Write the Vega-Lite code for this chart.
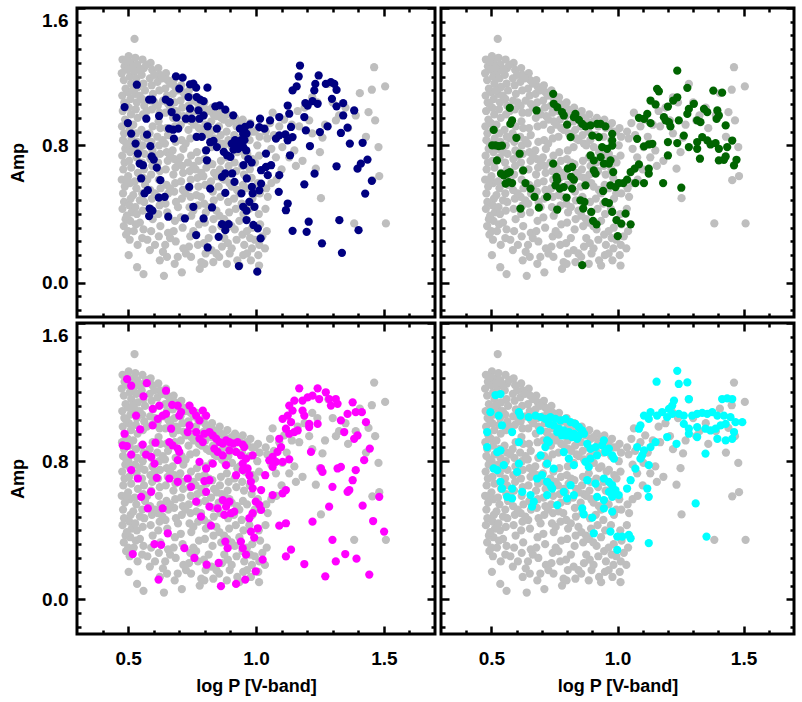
{
"$schema": "https://vega.github.io/schema/vega-lite/v6.json",
"background": "white",
"padding": {"top": 5, "left": 8, "right": 5, "bottom": 0},
"spacing": 0,
"columns": 2,
"config": {
  "view": {"stroke": "black", "strokeWidth": 3},
  "axis": {"grid": false, "domain": false, "tickColor": "black", "labelColor": "black", "titleColor": "black",
    "labelFont": "Liberation Sans", "labelFontWeight": "bold", "labelFontSize": 19,
    "titleFont": "Liberation Sans", "titleFontWeight": "bold", "titleFontSize": 18, "zindex": 1}
},
"datasets": {
"gray": [
{"p":0.478,"a":1.30},{"p":0.486,"a":1.26},{"p":0.475,"a":1.22},{"p":0.483,"a":1.18},{"p":0.49,"a":1.13},{"p":0.477,"a":1.09},{"p":0.485,"a":1.05},{"p":0.479,"a":1.0},{"p":0.488,"a":0.95},{"p":0.476,"a":0.91},{"p":0.484,"a":0.87},{"p":0.48,"a":0.83},{"p":0.489,"a":0.78},{"p":0.477,"a":0.74},{"p":0.486,"a":0.70},{"p":0.481,"a":0.66},{"p":0.475,"a":0.60},{"p":0.487,"a":0.56},{"p":0.48,"a":0.52},{"p":0.484,"a":0.47},{"p":0.478,"a":0.43},{"p":0.49,"a":0.37},{"p":0.483,"a":0.33},{"p":0.492,"a":0.28},
{"p":0.502,"a":1.32},{"p":0.51,"a":1.28},{"p":0.499,"a":1.24},{"p":0.507,"a":1.20},{"p":0.512,"a":1.16},{"p":0.5,"a":1.11},{"p":0.509,"a":1.07},{"p":0.503,"a":1.02},{"p":0.511,"a":0.98},{"p":0.498,"a":0.93},{"p":0.506,"a":0.89},{"p":0.513,"a":0.84},{"p":0.501,"a":0.80},{"p":0.508,"a":0.76},{"p":0.504,"a":0.71},{"p":0.512,"a":0.67},{"p":0.5,"a":0.62},{"p":0.507,"a":0.58},{"p":0.51,"a":0.49},{"p":0.505,"a":0.45},{"p":0.514,"a":0.41},{"p":0.508,"a":0.36},{"p":0.5,"a":0.30},{"p":0.506,"a":0.25},{"p":0.502,"a":0.16},{"p":0.525,"a":1.42},
{"p":0.528,"a":1.31},{"p":0.535,"a":1.27},{"p":0.525,"a":1.23},{"p":0.532,"a":1.19},{"p":0.538,"a":1.14},{"p":0.527,"a":1.10},{"p":0.534,"a":1.05},{"p":0.53,"a":1.01},{"p":0.537,"a":0.96},{"p":0.531,"a":0.87},{"p":0.536,"a":0.82},{"p":0.527,"a":0.78},{"p":0.533,"a":0.73},{"p":0.538,"a":0.64},{"p":0.526,"a":0.59},{"p":0.532,"a":0.55},{"p":0.528,"a":0.44},{"p":0.534,"a":0.40},{"p":0.53,"a":0.34},{"p":0.537,"a":0.22},{"p":0.535,"a":0.09},
{"p":0.556,"a":1.30},{"p":0.562,"a":1.25},{"p":0.553,"a":1.21},{"p":0.56,"a":1.16},{"p":0.566,"a":1.12},{"p":0.555,"a":1.07},{"p":0.563,"a":1.03},{"p":0.558,"a":0.98},{"p":0.552,"a":0.89},{"p":0.561,"a":0.85},{"p":0.557,"a":0.80},{"p":0.564,"a":0.75},{"p":0.554,"a":0.70},{"p":0.562,"a":0.66},{"p":0.559,"a":0.61},{"p":0.566,"a":0.57},{"p":0.555,"a":0.52},{"p":0.563,"a":0.47},{"p":0.557,"a":0.42},{"p":0.56,"a":0.31},{"p":0.555,"a":0.26},{"p":0.56,"a":0.05},
{"p":0.588,"a":1.28},{"p":0.594,"a":1.24},{"p":0.585,"a":1.19},{"p":0.592,"a":1.15},{"p":0.597,"a":1.10},{"p":0.586,"a":1.06},{"p":0.593,"a":1.01},{"p":0.596,"a":0.91},{"p":0.584,"a":0.87},{"p":0.591,"a":0.82},{"p":0.595,"a":0.77},{"p":0.587,"a":0.72},{"p":0.594,"a":0.68},{"p":0.59,"a":0.63},{"p":0.586,"a":0.54},{"p":0.593,"a":0.49},{"p":0.588,"a":0.43},{"p":0.596,"a":0.37},{"p":0.59,"a":0.30},{"p":0.585,"a":0.19},
{"p":0.618,"a":1.25},{"p":0.624,"a":1.21},{"p":0.615,"a":1.17},{"p":0.622,"a":1.12},{"p":0.616,"a":1.03},{"p":0.623,"a":0.99},{"p":0.619,"a":0.94},{"p":0.626,"a":0.90},{"p":0.614,"a":0.85},{"p":0.621,"a":0.80},{"p":0.625,"a":0.75},{"p":0.617,"a":0.70},{"p":0.624,"a":0.65},{"p":0.62,"a":0.60},{"p":0.627,"a":0.55},{"p":0.616,"a":0.50},{"p":0.623,"a":0.45},{"p":0.618,"a":0.40},{"p":0.626,"a":0.33},{"p":0.62,"a":0.27},{"p":0.624,"a":0.13},
{"p":0.648,"a":1.22},{"p":0.654,"a":1.18},{"p":0.645,"a":1.13},{"p":0.652,"a":1.09},{"p":0.657,"a":1.04},{"p":0.646,"a":0.99},{"p":0.649,"a":0.90},{"p":0.656,"a":0.86},{"p":0.644,"a":0.81},{"p":0.651,"a":0.76},{"p":0.655,"a":0.71},{"p":0.647,"a":0.66},{"p":0.65,"a":0.57},{"p":0.657,"a":0.52},{"p":0.646,"a":0.46},{"p":0.653,"a":0.41},{"p":0.656,"a":0.29},{"p":0.645,"a":0.22},{"p":0.652,"a":0.15},{"p":0.64,"a":0.04},
{"p":0.678,"a":1.18},{"p":0.684,"a":1.14},{"p":0.675,"a":1.10},{"p":0.682,"a":1.05},{"p":0.687,"a":1.00},{"p":0.676,"a":0.96},{"p":0.683,"a":0.91},{"p":0.686,"a":0.82},{"p":0.674,"a":0.77},{"p":0.681,"a":0.72},{"p":0.685,"a":0.67},{"p":0.677,"a":0.63},{"p":0.684,"a":0.58},{"p":0.68,"a":0.53},{"p":0.687,"a":0.47},{"p":0.683,"a":0.36},{"p":0.678,"a":0.30},{"p":0.686,"a":0.24},{"p":0.682,"a":0.11},
{"p":0.708,"a":1.15},{"p":0.714,"a":1.11},{"p":0.705,"a":1.06},{"p":0.712,"a":1.02},{"p":0.717,"a":0.97},{"p":0.706,"a":0.92},{"p":0.709,"a":0.83},{"p":0.716,"a":0.78},{"p":0.704,"a":0.73},{"p":0.711,"a":0.68},{"p":0.715,"a":0.64},{"p":0.707,"a":0.59},{"p":0.714,"a":0.54},{"p":0.71,"a":0.49},{"p":0.706,"a":0.38},{"p":0.713,"a":0.32},{"p":0.716,"a":0.20},{"p":0.71,"a":0.06},
{"p":0.738,"a":1.12},{"p":0.744,"a":1.08},{"p":0.735,"a":1.03},{"p":0.742,"a":0.99},{"p":0.747,"a":0.94},{"p":0.736,"a":0.89},{"p":0.743,"a":0.84},{"p":0.746,"a":0.74},{"p":0.734,"a":0.70},{"p":0.741,"a":0.65},{"p":0.745,"a":0.60},{"p":0.737,"a":0.55},{"p":0.744,"a":0.50},{"p":0.74,"a":0.44},{"p":0.747,"a":0.39},{"p":0.743,"a":0.27},{"p":0.738,"a":0.21},{"p":0.746,"a":0.15},
{"p":0.768,"a":1.08},{"p":0.774,"a":1.04},{"p":0.765,"a":1.00},{"p":0.772,"a":0.95},{"p":0.777,"a":0.90},{"p":0.766,"a":0.85},{"p":0.769,"a":0.76},{"p":0.776,"a":0.71},{"p":0.764,"a":0.66},{"p":0.771,"a":0.61},{"p":0.775,"a":0.56},{"p":0.767,"a":0.51},{"p":0.774,"a":0.45},{"p":0.777,"a":0.34},{"p":0.766,"a":0.28},{"p":0.773,"a":0.22},{"p":0.78,"a":0.08},
{"p":0.798,"a":1.05},{"p":0.804,"a":1.01},{"p":0.795,"a":0.97},{"p":0.802,"a":0.92},{"p":0.807,"a":0.87},{"p":0.803,"a":0.77},{"p":0.799,"a":0.72},{"p":0.806,"a":0.67},{"p":0.794,"a":0.62},{"p":0.801,"a":0.57},{"p":0.797,"a":0.46},{"p":0.804,"a":0.41},{"p":0.8,"a":0.35},{"p":0.796,"a":0.23},{"p":0.803,"a":0.17},{"p":0.798,"a":0.11},
{"p":0.828,"a":1.02},{"p":0.834,"a":0.98},{"p":0.825,"a":0.94},{"p":0.832,"a":0.89},{"p":0.837,"a":0.84},{"p":0.826,"a":0.79},{"p":0.829,"a":0.69},{"p":0.836,"a":0.64},{"p":0.824,"a":0.59},{"p":0.831,"a":0.53},{"p":0.835,"a":0.48},{"p":0.834,"a":0.37},{"p":0.83,"a":0.31},{"p":0.826,"a":0.19},{"p":0.833,"a":0.12},
{"p":0.858,"a":1.00},{"p":0.864,"a":0.96},{"p":0.855,"a":0.91},{"p":0.862,"a":0.86},{"p":0.867,"a":0.81},{"p":0.863,"a":0.71},{"p":0.859,"a":0.66},{"p":0.866,"a":0.61},{"p":0.854,"a":0.56},{"p":0.861,"a":0.50},{"p":0.857,"a":0.39},{"p":0.864,"a":0.33},{"p":0.867,"a":0.21},{"p":0.856,"a":0.15},
{"p":0.888,"a":0.98},{"p":0.894,"a":0.93},{"p":0.885,"a":0.88},{"p":0.892,"a":0.83},{"p":0.886,"a":0.73},{"p":0.893,"a":0.68},{"p":0.889,"a":0.63},{"p":0.896,"a":0.58},{"p":0.891,"a":0.47},{"p":0.895,"a":0.41},{"p":0.887,"a":0.35},{"p":0.89,"a":0.23},{"p":0.897,"a":0.17},{"p":0.886,"a":0.11},
{"p":0.918,"a":0.96},{"p":0.924,"a":0.91},{"p":0.915,"a":0.86},{"p":0.927,"a":0.76},{"p":0.916,"a":0.70},{"p":0.923,"a":0.65},{"p":0.926,"a":0.54},{"p":0.914,"a":0.49},{"p":0.921,"a":0.43},{"p":0.917,"a":0.31},{"p":0.924,"a":0.25},{"p":0.927,"a":0.13},
{"p":0.948,"a":0.95},{"p":0.954,"a":0.90},{"p":0.945,"a":0.85},{"p":0.957,"a":0.74},{"p":0.946,"a":0.68},{"p":0.953,"a":0.63},{"p":0.949,"a":0.57},{"p":0.944,"a":0.46},{"p":0.951,"a":0.40},{"p":0.947,"a":0.28},{"p":0.954,"a":0.22},{"p":0.95,"a":0.16},
{"p":0.978,"a":0.93},{"p":0.984,"a":0.88},{"p":0.975,"a":0.83},{"p":0.987,"a":0.72},{"p":0.976,"a":0.66},{"p":0.983,"a":0.61},{"p":0.986,"a":0.49},{"p":0.974,"a":0.43},{"p":0.985,"a":0.32},{"p":0.977,"a":0.26},{"p":0.984,"a":0.20},{"p":0.98,"a":0.13},
{"p":1.008,"a":0.90},{"p":1.014,"a":0.85},{"p":1.005,"a":0.80},{"p":1.012,"a":0.74},{"p":1.007,"a":0.58},{"p":1.015,"a":0.52},{"p":1.011,"a":0.40},{"p":1.016,"a":0.34},{"p":1.013,"a":0.22},{"p":1.009,"a":0.16},{"p":1.012,"a":0.10},
{"p":1.038,"a":0.88},{"p":1.044,"a":0.84},{"p":1.04,"a":0.55},{"p":1.046,"a":0.50},{"p":1.037,"a":0.43},{"p":1.042,"a":0.30},{"p":1.035,"a":0.20},
{"p":1.065,"a":0.99},{"p":1.091,"a":0.91},{"p":1.103,"a":0.79},{"p":1.13,"a":0.73},{"p":1.156,"a":0.68},{"p":1.182,"a":0.71},{"p":1.208,"a":0.945},{"p":1.22,"a":0.87},{"p":1.169,"a":0.91},{"p":1.163,"a":1.0},{"p":1.15,"a":0.77},{"p":1.078,"a":0.73},{"p":1.12,"a":0.85},{"p":1.07,"a":0.86},{"p":1.055,"a":0.93},{"p":1.11,"a":0.95},{"p":1.14,"a":0.92},{"p":1.19,"a":1.02},{"p":1.24,"a":1.05},{"p":1.27,"a":0.92},{"p":1.283,"a":1.158},{"p":1.3125,"a":0.945},{"p":1.325,"a":0.974},{"p":1.39,"a":0.974},{"p":1.406,"a":1.104},{"p":1.453,"a":1.124},{"p":1.462,"a":1.255},{"p":1.505,"a":1.143},{"p":1.44,"a":0.993},{"p":1.466,"a":0.945},{"p":1.479,"a":0.79},{"p":1.482,"a":0.621},{"p":1.455,"a":0.597},{"p":1.254,"a":0.492},{"p":1.508,"a":0.345},{"p":1.384,"a":0.345},{"p":1.234,"a":0.664},{"p":1.26,"a":0.845},{"p":1.35,"a":1.02},{"p":1.3,"a":1.05},{"p":1.22,"a":1.08},{"p":1.36,"a":0.9},{"p":1.43,"a":0.85},{"p":1.25,"a":0.76},{"p":1.06,"a":0.58},{"p":1.08,"a":0.6},{"p":1.06,"a":0.78},{"p":1.1,"a":0.66},
{"p":0.494,"a":1.29},{"p":0.519,"a":1.25},{"p":0.546,"a":1.24},{"p":0.571,"a":1.27},{"p":0.602,"a":1.21},{"p":0.633,"a":1.19},{"p":0.664,"a":1.16},{"p":0.693,"a":1.12},{"p":0.723,"a":1.09},{"p":0.756,"a":1.06},{"p":0.786,"a":1.03},{"p":0.815,"a":1.0},{"p":0.845,"a":0.97},{"p":0.874,"a":0.95},{"p":0.905,"a":0.94},{"p":0.935,"a":0.93},{"p":0.965,"a":0.91},{"p":0.995,"a":0.88},
{"p":0.492,"a":1.04},{"p":0.517,"a":1.12},{"p":0.545,"a":1.09},{"p":0.573,"a":1.0},{"p":0.604,"a":1.05},{"p":0.636,"a":1.06},{"p":0.665,"a":1.02},{"p":0.695,"a":0.98},{"p":0.726,"a":0.95},{"p":0.757,"a":0.92},{"p":0.787,"a":0.89},{"p":0.817,"a":0.86},{"p":0.846,"a":0.83},{"p":0.876,"a":0.8},{"p":0.906,"a":0.79},{"p":0.936,"a":0.77},{"p":0.966,"a":0.75},{"p":0.996,"a":0.7},
{"p":0.493,"a":0.81},{"p":0.52,"a":0.92},{"p":0.547,"a":0.76},{"p":0.574,"a":0.84},{"p":0.604,"a":0.74},{"p":0.635,"a":0.83},{"p":0.664,"a":0.74},{"p":0.696,"a":0.7},{"p":0.725,"a":0.81},{"p":0.755,"a":0.68},{"p":0.786,"a":0.64},{"p":0.816,"a":0.7},{"p":0.846,"a":0.62},{"p":0.876,"a":0.6},{"p":0.905,"a":0.56},{"p":0.935,"a":0.52},{"p":0.965,"a":0.55},{"p":0.995,"a":0.52},
{"p":0.494,"a":0.6},{"p":0.52,"a":0.51},{"p":0.546,"a":0.48},{"p":0.575,"a":0.6},{"p":0.604,"a":0.52},{"p":0.634,"a":0.48},{"p":0.664,"a":0.55},{"p":0.695,"a":0.44},{"p":0.724,"a":0.52},{"p":0.755,"a":0.42},{"p":0.785,"a":0.5},{"p":0.815,"a":0.44},{"p":0.845,"a":0.42},{"p":0.875,"a":0.37},{"p":0.904,"a":0.33},{"p":0.935,"a":0.36},{"p":0.965,"a":0.3},{"p":0.995,"a":0.25},
{"p":0.495,"a":0.39},{"p":0.522,"a":0.3},{"p":0.546,"a":0.35},{"p":0.575,"a":0.25},{"p":0.605,"a":0.22},{"p":0.636,"a":0.18},{"p":0.664,"a":0.26},{"p":0.694,"a":0.15},{"p":0.726,"a":0.17},{"p":0.755,"a":0.3},{"p":0.786,"a":0.12},{"p":0.815,"a":0.26},{"p":0.845,"a":0.17},{"p":0.876,"a":0.26},{"p":0.905,"a":0.2},{"p":0.935,"a":0.1},{"p":0.965,"a":0.17},{"p":1.025,"a":0.27}
],
"blue": [
{"p":0.534,"a":1.153},{"p":0.486,"a":1.023},{"p":0.499,"a":0.93},{"p":0.512,"a":0.868},{"p":0.529,"a":0.81},{"p":0.538,"a":0.752},{"p":0.545,"a":0.694},{"p":0.558,"a":0.684},{"p":0.551,"a":0.607},{"p":0.564,"a":0.52},{"p":0.577,"a":0.539},{"p":0.584,"a":0.432},{"p":0.595,"a":0.419},{"p":0.582,"a":0.388},{"p":0.571,"a":0.955},{"p":0.574,"a":0.862},{"p":0.587,"a":0.795},{"p":0.592,"a":0.736},{"p":0.6,"a":0.717},{"p":0.612,"a":0.67},{"p":0.626,"a":0.597},{"p":0.62,"a":0.496},{"p":0.643,"a":0.5},{"p":0.657,"a":0.384},{"p":0.582,"a":1.066},{"p":0.595,"a":1.066},{"p":0.621,"a":0.971},{"p":0.647,"a":1.066},{"p":0.663,"a":1.052},{"p":0.67,"a":0.994},{"p":0.689,"a":0.961},{"p":0.66,"a":0.897},{"p":0.676,"a":0.891},{"p":0.696,"a":0.897},{"p":0.679,"a":0.839},{"p":0.687,"a":1.202},{"p":0.713,"a":1.194},{"p":0.7,"a":1.13},{"p":0.742,"a":1.155},{"p":0.755,"a":1.159},{"p":0.766,"a":1.136},{"p":0.736,"a":1.081},{"p":0.768,"a":1.081},{"p":0.782,"a":1.066},{"p":0.795,"a":1.058},{"p":0.81,"a":1.136},{"p":0.742,"a":1.014},{"p":0.775,"a":1.004},{"p":0.726,"a":0.955},{"p":0.749,"a":0.955},{"p":0.779,"a":0.955},{"p":0.795,"a":0.975},{"p":0.768,"a":0.849},{"p":0.788,"a":0.849},{"p":0.811,"a":0.911},{"p":0.847,"a":0.897},{"p":0.841,"a":1.027},{"p":0.858,"a":1.033},{"p":0.88,"a":1.008},{"p":0.911,"a":0.975},{"p":0.821,"a":0.818},{"p":0.834,"a":0.826},{"p":0.847,"a":0.79},{"p":0.805,"a":0.771},{"p":0.808,"a":0.713},{"p":0.739,"a":0.558},{"p":0.755,"a":0.442},{"p":0.722,"a":0.374},{"p":0.766,"a":0.277},{"p":0.795,"a":0.374},{"p":0.811,"a":0.205},{"p":0.821,"a":0.548},{"p":0.828,"a":0.438},{"p":0.88,"a":0.523},{"p":0.867,"a":0.341},{"p":0.893,"a":0.341},{"p":0.88,"a":0.306},{"p":0.854,"a":0.267},{"p":0.874,"a":0.762},{"p":0.887,"a":0.742},{"p":0.9,"a":0.733},{"p":0.867,"a":0.616},{"p":0.88,"a":0.636},{"p":0.907,"a":0.636},{"p":0.916,"a":0.587},{"p":0.905,"a":0.81},{"p":0.918,"a":0.83},{"p":0.93,"a":0.81},{"p":0.942,"a":0.83},{"p":0.955,"a":0.83},{"p":0.93,"a":0.78},{"p":0.95,"a":0.79},{"p":0.962,"a":0.77},{"p":0.912,"a":0.775},{"p":0.937,"a":0.897},{"p":0.957,"a":0.907},{"p":0.963,"a":0.868},{"p":0.95,"a":0.868},{"p":0.951,"a":0.685},{"p":0.964,"a":0.607},{"p":0.97,"a":0.72},{"p":0.983,"a":0.7},{"p":0.984,"a":0.558},{"p":0.987,"a":0.52},{"p":0.943,"a":0.52},{"p":0.95,"a":0.442},{"p":0.963,"a":0.419},{"p":0.963,"a":0.365},{"p":0.99,"a":0.336},{"p":0.933,"a":0.097},{"p":1.005,"a":0.064},{"p":1.018,"a":0.258},
{"p":1.172,"a":1.265},{"p":1.167,"a":1.201},{"p":1.159,"a":1.143},{"p":1.143,"a":1.12},{"p":1.245,"a":1.207},{"p":1.232,"a":1.158},{"p":1.228,"a":1.12},{"p":1.273,"a":1.158},{"p":1.293,"a":1.168},{"p":1.306,"a":1.158},{"p":1.315,"a":1.123},{"p":1.297,"a":1.071},{"p":1.315,"a":1.027},{"p":1.341,"a":1.046},{"p":1.384,"a":1.003},{"p":1.341,"a":0.974},{"p":1.358,"a":0.903},{"p":1.332,"a":0.872},{"p":1.28,"a":0.91},{"p":1.25,"a":0.877},{"p":1.367,"a":0.81},{"p":1.417,"a":0.815},{"p":1.211,"a":0.796},{"p":1.315,"a":0.678},{"p":1.397,"a":0.664},{"p":1.41,"a":0.693},{"p":1.436,"a":0.717},{"p":1.453,"a":0.593},{"p":1.427,"a":0.519},{"p":1.229,"a":0.635},{"p":1.189,"a":0.573},{"p":1.326,"a":0.364},{"p":1.401,"a":0.306},{"p":1.206,"a":0.355},{"p":1.198,"a":0.296},{"p":1.143,"a":0.302},{"p":1.258,"a":0.229},{"p":1.336,"a":0.174},{"p":1.124,"a":1.032},{"p":1.13,"a":0.984},{"p":1.193,"a":1.046},{"p":1.202,"a":1.032},{"p":1.221,"a":1.058},{"p":1.241,"a":1.042},{"p":1.189,"a":0.965},{"p":1.091,"a":0.965},{"p":1.195,"a":0.887},{"p":1.137,"a":0.907},{"p":1.124,"a":0.829},{"p":1.115,"a":0.864},{"p":1.143,"a":0.848},{"p":1.133,"a":0.742},{"p":1.039,"a":0.752},{"p":1.055,"a":0.945},{"p":1.016,"a":0.955},{"p":0.977,"a":0.922},{"p":1.013,"a":0.906},{"p":1.033,"a":0.897},{"p":1.091,"a":0.858},{"p":1.078,"a":0.839},{"p":1.039,"a":0.674},{"p":1.059,"a":0.684},{"p":1.02,"a":0.655},{"p":1.046,"a":0.626},{"p":1.091,"a":0.626},{"p":1.02,"a":0.577},{"p":1.013,"a":0.538},{"p":1.089,"a":0.529},{"p":1.124,"a":0.461},{"p":1.117,"a":0.422},{"p":0.974,"a":0.471},{"p":0.994,"a":0.442},{"p":1.007,"a":0.316}
],
"green": [
{"p":1.237,"a":1.235},{"p":1.157,"a":1.129},{"p":1.164,"a":1.115},{"p":1.277,"a":1.135},{"p":1.38,"a":1.119},{"p":1.415,"a":1.107},{"p":1.237,"a":1.08},{"p":1.221,"a":1.061},{"p":1.2,"a":1.026},{"p":1.131,"a":1.061},{"p":1.151,"a":1.038},{"p":1.303,"a":1.042},{"p":1.283,"a":1.012},{"p":1.277,"a":0.983},{"p":1.343,"a":1.012},{"p":1.356,"a":0.993},{"p":1.396,"a":1.003},{"p":1.402,"a":0.974},{"p":1.393,"a":0.954},{"p":1.316,"a":0.945},{"p":1.329,"a":0.935},{"p":1.243,"a":0.945},{"p":1.204,"a":0.935},{"p":1.21,"a":0.91},{"p":1.184,"a":0.964},{"p":1.191,"a":0.945},{"p":1.118,"a":0.983},{"p":1.105,"a":0.954},{"p":1.085,"a":0.96},{"p":1.131,"a":0.929},{"p":1.429,"a":0.916},{"p":1.263,"a":0.857},{"p":1.237,"a":0.813},{"p":1.2,"a":0.819},{"p":1.078,"a":0.838},{"p":1.105,"a":0.794},{"p":1.124,"a":0.805},{"p":1.138,"a":0.809},{"p":1.283,"a":0.79},{"p":1.316,"a":0.819},{"p":1.336,"a":0.848},{"p":1.356,"a":0.829},{"p":1.369,"a":0.805},{"p":1.389,"a":0.813},{"p":1.316,"a":0.78},{"p":1.455,"a":0.828},{"p":1.435,"a":0.79},{"p":1.402,"a":0.78},{"p":1.327,"a":0.722},{"p":1.429,"a":0.735},{"p":1.402,"a":0.712},{"p":1.422,"a":0.716},{"p":1.472,"a":0.716},{"p":1.462,"a":0.683},{"p":1.2,"a":0.741},{"p":1.085,"a":0.689},{"p":1.068,"a":0.664},{"p":1.052,"a":0.644},{"p":1.124,"a":0.664},{"p":1.124,"a":0.635},{"p":1.105,"a":0.58},{"p":1.071,"a":0.58},{"p":1.181,"a":0.58},{"p":1.253,"a":0.553},{"p":1.038,"a":0.6},{"p":1.023,"a":0.58},{"p":1.005,"a":0.58},{"p":0.992,"a":0.557},{"p":0.972,"a":0.567},{"p":0.943,"a":0.534},{"p":0.952,"a":0.47},{"p":0.966,"a":0.464},{"p":0.983,"a":0.644},{"p":0.979,"a":0.412},{"p":0.996,"a":0.364},{"p":1.015,"a":0.344},{"p":1.032,"a":0.402},{"p":1.052,"a":0.34},{"p":1.001,"a":0.271},{"p":0.86,"a":0.102},{"p":0.903,"a":0.36},{"p":0.917,"a":0.34},{"p":0.869,"a":0.47},{"p":0.864,"a":0.432},{"p":0.853,"a":0.48},{"p":0.896,"a":0.412},{"p":0.873,"a":0.567},{"p":0.906,"a":0.654},{"p":0.913,"a":0.635},{"p":0.893,"a":0.741},{"p":0.906,"a":0.712},{"p":0.933,"a":0.731},{"p":0.946,"a":0.693},{"p":0.966,"a":0.693},{"p":0.972,"a":0.712},{"p":0.939,"a":0.79},{"p":0.959,"a":0.78},{"p":0.979,"a":0.799},{"p":0.979,"a":0.828},{"p":0.979,"a":0.867},{"p":0.926,"a":0.848},{"p":0.9,"a":0.857},{"p":0.893,"a":0.916},{"p":0.919,"a":0.925},{"p":0.933,"a":0.925},{"p":0.952,"a":0.91},{"p":0.873,"a":0.91},{"p":0.86,"a":0.925},{"p":0.847,"a":0.948},{"p":0.833,"a":0.983},{"p":0.827,"a":0.964},{"p":0.8,"a":0.921},{"p":0.814,"a":0.848},{"p":0.787,"a":0.974},{"p":0.78,"a":0.993},{"p":0.761,"a":1.022},{"p":0.747,"a":1.042},{"p":0.745,"a":1.1},{"p":0.745,"a":0.693},{"p":0.758,"a":0.616},{"p":0.754,"a":0.567},{"p":0.771,"a":0.548},{"p":0.787,"a":0.557},{"p":0.798,"a":0.496},{"p":0.82,"a":0.548},{"p":0.827,"a":0.6},{"p":0.816,"a":0.616},{"p":0.761,"a":0.426},{"p":0.721,"a":0.5},{"p":0.688,"a":0.437},{"p":0.671,"a":0.5},{"p":0.655,"a":0.548},{"p":0.635,"a":0.58},{"p":0.615,"a":0.432},{"p":0.626,"a":0.654},{"p":0.679,"a":1.003},{"p":0.612,"a":0.751},{"p":0.599,"a":0.844},{"p":0.582,"a":0.945},{"p":0.575,"a":0.925},{"p":0.573,"a":1.018},{"p":0.509,"a":0.89},{"p":0.503,"a":0.8},{"p":0.516,"a":0.8},{"p":0.529,"a":0.796},{"p":0.542,"a":0.798},{"p":0.522,"a":0.712},{"p":0.538,"a":0.635},{"p":0.549,"a":0.625},{"p":0.562,"a":0.635},{"p":0.573,"a":0.644},{"p":0.556,"a":0.577},{"p":0.569,"a":0.586},{"p":0.582,"a":0.58},{"p":0.803,"a":0.664},{"p":0.82,"a":0.674},{"p":0.761,"a":0.597}
],
"magenta": [
{"p":0.496,"a":1.275},{"p":0.512,"a":1.237},{"p":0.573,"a":1.252},{"p":0.56,"a":1.176},{"p":0.648,"a":1.208},{"p":0.531,"a":1.064},{"p":0.547,"a":0.984},{"p":0.486,"a":0.959},{"p":0.479,"a":0.892},{"p":0.495,"a":0.888},{"p":0.512,"a":0.838},{"p":0.557,"a":0.896},{"p":0.57,"a":0.838},{"p":0.59,"a":0.825},{"p":0.596,"a":1.103},{"p":0.622,"a":1.122},{"p":0.635,"a":1.064},{"p":0.648,"a":1.074},{"p":0.607,"a":0.907},{"p":0.596,"a":1.007},{"p":0.616,"a":1.045},{"p":0.668,"a":0.988},{"p":0.672,"a":1.126},{"p":0.694,"a":1.122},{"p":0.707,"a":1.084},{"p":0.7,"a":1.064},{"p":0.661,"a":0.911},{"p":0.674,"a":0.892},{"p":0.694,"a":0.873},{"p":0.7,"a":0.854},{"p":0.694,"a":0.806},{"p":0.74,"a":1.122},{"p":0.753,"a":1.093},{"p":0.766,"a":1.064},{"p":0.779,"a":1.036},{"p":0.792,"a":1.093},{"p":0.805,"a":1.064},{"p":0.74,"a":1.007},{"p":0.733,"a":0.969},{"p":0.766,"a":0.969},{"p":0.779,"a":0.931},{"p":0.792,"a":0.911},{"p":0.798,"a":0.959},{"p":0.818,"a":0.969},{"p":0.831,"a":0.95},{"p":0.844,"a":0.931},{"p":0.857,"a":0.911},{"p":0.87,"a":0.902},{"p":0.883,"a":0.921},{"p":0.896,"a":0.911},{"p":0.911,"a":0.902},{"p":0.928,"a":0.911},{"p":0.948,"a":0.896},{"p":0.954,"a":0.882},{"p":0.837,"a":0.873},{"p":0.85,"a":0.854},{"p":0.87,"a":0.834},{"p":0.896,"a":0.863},{"p":0.922,"a":0.854},{"p":0.941,"a":0.834},{"p":0.961,"a":0.815},{"p":0.987,"a":0.834},{"p":0.948,"a":0.786},{"p":0.967,"a":0.758},{"p":0.779,"a":0.796},{"p":0.805,"a":0.758},{"p":0.831,"a":0.786},{"p":0.883,"a":0.777},{"p":0.922,"a":0.719},{"p":0.948,"a":0.748},{"p":0.603,"a":0.786},{"p":0.612,"a":0.704},{"p":0.538,"a":0.7},{"p":0.512,"a":0.748},{"p":0.551,"a":0.594},{"p":0.577,"a":0.527},{"p":0.59,"a":0.623},{"p":0.635,"a":0.527},{"p":0.655,"a":0.383},{"p":0.603,"a":0.32},{"p":0.629,"a":0.316},{"p":0.518,"a":0.263},{"p":0.619,"a":0.115},{"p":0.694,"a":0.681},{"p":0.661,"a":0.7},{"p":0.733,"a":0.7},{"p":0.766,"a":0.566},{"p":0.746,"a":0.652},{"p":0.798,"a":0.685},{"p":0.818,"a":0.69},{"p":0.805,"a":0.623},{"p":0.818,"a":0.537},{"p":0.785,"a":0.479},{"p":0.824,"a":0.427},{"p":0.85,"a":0.527},{"p":0.87,"a":0.575},{"p":0.883,"a":0.537},{"p":0.896,"a":0.566},{"p":0.902,"a":0.499},{"p":0.915,"a":0.508},{"p":0.876,"a":0.489},{"p":0.72,"a":0.297},{"p":0.759,"a":0.24},{"p":0.807,"a":0.201},{"p":0.854,"a":0.211},{"p":0.88,"a":0.335},{"p":0.889,"a":0.297},{"p":0.941,"a":0.335},{"p":0.948,"a":0.297},{"p":0.961,"a":0.259},{"p":0.98,"a":0.393},{"p":0.993,"a":0.358},{"p":1.007,"a":0.412},{"p":0.974,"a":0.47},{"p":0.987,"a":0.499},{"p":1.02,"a":0.518},{"p":1.026,"a":0.23},{"p":0.999,"a":0.163},{"p":0.958,"a":0.115},{"p":0.922,"a":0.09},{"p":0.863,"a":0.077},{"p":0.974,"a":0.719},{"p":0.98,"a":0.681},{"p":0.987,"a":0.643},{"p":1.02,"a":0.633},{"p":0.999,"a":0.566},{"p":1.013,"a":0.547},{"p":1.036,"a":0.719},{"p":1.052,"a":0.805},{"p":1.065,"a":0.825},{"p":1.078,"a":0.796},{"p":1.084,"a":0.854},{"p":1.098,"a":0.882},{"p":1.091,"a":0.93},{"p":1.104,"a":0.796},{"p":1.13,"a":0.811},{"p":1.065,"a":0.767},{"p":1.065,"a":0.604},{"p":1.104,"a":0.614},{"p":1.117,"a":0.633},{"p":1.091,"a":0.427},{"p":1.117,"a":0.441},{"p":1.137,"a":0.288},{"p":1.117,"a":0.249},{"p":1.189,"a":0.205},{"p":1.104,"a":1.045},{"p":1.124,"a":1.064},{"p":1.143,"a":1.093},{"p":1.137,"a":1.026},{"p":1.117,"a":0.988},{"p":1.13,"a":0.959},{"p":1.15,"a":0.969},{"p":1.163,"a":0.978},{"p":1.13,"a":1.122},{"p":1.15,"a":1.151},{"p":1.169,"a":1.222},{"p":1.182,"a":1.093},{"p":1.189,"a":1.064},{"p":1.208,"a":0.998},{"p":1.215,"a":0.854},{"p":1.182,"a":1.151},{"p":1.202,"a":1.17},{"p":1.221,"a":1.18},{"p":1.241,"a":1.222},{"p":1.247,"a":1.16},{"p":1.208,"a":1.016},{"p":1.241,"a":1.016},{"p":1.273,"a":1.199},{"p":1.286,"a":1.16},{"p":1.312,"a":1.16},{"p":1.319,"a":1.132},{"p":1.293,"a":1.122},{"p":1.332,"a":1.036},{"p":1.358,"a":1.074},{"p":1.378,"a":1.141},{"p":1.39,"a":1.084},{"p":1.414,"a":1.084},{"p":1.345,"a":0.969},{"p":1.384,"a":0.93},{"p":1.397,"a":0.949},{"p":1.43,"a":1.026},{"p":1.445,"a":0.873},{"p":1.423,"a":0.806},{"p":1.39,"a":0.748},{"p":1.378,"a":0.69},{"p":1.365,"a":0.633},{"p":1.358,"a":0.623},{"p":1.254,"a":0.758},{"p":1.26,"a":0.738},{"p":1.319,"a":0.758},{"p":1.332,"a":0.767},{"p":1.299,"a":0.652},{"p":1.286,"a":0.537},{"p":1.417,"a":0.543},{"p":1.221,"a":0.45},{"p":1.299,"a":0.345},{"p":1.458,"a":0.454},{"p":1.501,"a":0.393},{"p":1.482,"a":0.594},{"p":1.312,"a":0.22},{"p":1.349,"a":0.263},{"p":1.393,"a":0.236},{"p":1.271,"a":0.134},{"p":1.443,"a":0.144}
],
"cyan": [
{"p":1.237,"a":1.323},{"p":1.155,"a":1.26},{"p":1.243,"a":1.247},{"p":1.277,"a":1.256},{"p":0.516,"a":1.183},{"p":0.536,"a":1.189},{"p":1.224,"a":1.151},{"p":1.217,"a":1.122},{"p":1.283,"a":1.16},{"p":1.415,"a":1.16},{"p":1.435,"a":1.164},{"p":1.455,"a":1.16},{"p":0.496,"a":1.084},{"p":0.529,"a":1.064},{"p":0.609,"a":1.084},{"p":0.615,"a":1.064},{"p":0.648,"a":1.055},{"p":0.675,"a":1.064},{"p":0.695,"a":1.055},{"p":0.714,"a":1.045},{"p":0.734,"a":1.055},{"p":0.754,"a":1.045},{"p":0.774,"a":1.036},{"p":0.794,"a":1.045},{"p":0.814,"a":1.026},{"p":0.833,"a":1.016},{"p":0.847,"a":0.997},{"p":0.86,"a":0.978},{"p":0.867,"a":0.959},{"p":0.847,"a":0.949},{"p":0.728,"a":1.016},{"p":0.747,"a":1.007},{"p":0.767,"a":0.988},{"p":0.787,"a":0.978},{"p":0.807,"a":0.969},{"p":0.827,"a":0.959},{"p":0.761,"a":0.969},{"p":0.78,"a":0.949},{"p":0.8,"a":0.949},{"p":0.82,"a":0.94},{"p":0.84,"a":0.93},{"p":0.483,"a":0.969},{"p":0.542,"a":1.007},{"p":0.582,"a":0.969},{"p":0.536,"a":0.863},{"p":0.523,"a":0.853},{"p":0.483,"a":0.882},{"p":0.609,"a":0.911},{"p":0.694,"a":0.978},{"p":0.721,"a":0.921},{"p":0.714,"a":0.882},{"p":1.131,"a":1.084},{"p":1.157,"a":1.064},{"p":1.177,"a":1.084},{"p":1.204,"a":1.103},{"p":1.197,"a":1.055},{"p":1.217,"a":1.074},{"p":1.243,"a":1.074},{"p":1.263,"a":1.064},{"p":1.296,"a":1.064},{"p":1.316,"a":1.074},{"p":1.336,"a":1.08},{"p":1.356,"a":1.074},{"p":1.376,"a":1.084},{"p":1.396,"a":1.064},{"p":1.422,"a":1.064},{"p":1.448,"a":1.055},{"p":1.468,"a":1.026},{"p":1.495,"a":1.026},{"p":1.105,"a":1.064},{"p":1.124,"a":1.045},{"p":1.091,"a":1.007},{"p":1.085,"a":0.988},{"p":1.263,"a":1.016},{"p":1.283,"a":0.988},{"p":1.316,"a":0.997},{"p":1.349,"a":0.988},{"p":1.369,"a":0.978},{"p":1.389,"a":0.988},{"p":1.409,"a":1.007},{"p":1.429,"a":1.016},{"p":1.283,"a":0.959},{"p":1.316,"a":0.94},{"p":1.396,"a":0.93},{"p":1.429,"a":0.921},{"p":1.462,"a":0.969},{"p":1.234,"a":0.901},{"p":1.197,"a":0.94},{"p":1.349,"a":0.844},{"p":1.455,"a":0.93},{"p":1.151,"a":0.911},{"p":1.131,"a":0.882},{"p":1.105,"a":0.863},{"p":1.091,"a":0.815},{"p":1.071,"a":0.757},{"p":1.124,"a":0.777},{"p":1.078,"a":0.882},{"p":1.098,"a":0.834},{"p":1.052,"a":0.69},{"p":1.038,"a":0.642},{"p":1.118,"a":0.642},{"p":1.124,"a":0.594},{"p":1.31,"a":0.556},{"p":1.353,"a":0.364},{"p":1.124,"a":0.326},{"p":0.88,"a":0.901},{"p":0.893,"a":0.872},{"p":0.913,"a":0.882},{"p":0.939,"a":0.892},{"p":0.952,"a":0.853},{"p":0.979,"a":0.834},{"p":0.919,"a":0.834},{"p":0.893,"a":0.815},{"p":0.873,"a":0.796},{"p":0.886,"a":0.767},{"p":0.946,"a":0.921},{"p":0.966,"a":0.873},{"p":0.986,"a":0.815},{"p":0.88,"a":0.69},{"p":0.913,"a":0.671},{"p":0.946,"a":0.7},{"p":0.966,"a":0.681},{"p":0.979,"a":0.661},{"p":0.992,"a":0.633},{"p":1.005,"a":0.604},{"p":0.979,"a":0.594},{"p":0.966,"a":0.623},{"p":0.919,"a":0.594},{"p":0.946,"a":0.575},{"p":0.86,"a":0.527},{"p":0.866,"a":0.493},{"p":0.9,"a":0.474},{"p":0.906,"a":0.383},{"p":0.946,"a":0.527},{"p":0.979,"a":0.508},{"p":0.972,"a":0.393},{"p":0.999,"a":0.364},{"p":1.019,"a":0.364},{"p":1.045,"a":0.374},{"p":1.052,"a":0.354},{"p":0.999,"a":0.287},{"p":0.814,"a":0.661},{"p":0.827,"a":0.604},{"p":0.8,"a":0.585},{"p":0.761,"a":0.546},{"p":0.721,"a":0.604},{"p":0.741,"a":0.642},{"p":0.787,"a":0.623},{"p":0.734,"a":0.661},{"p":0.655,"a":0.604},{"p":0.668,"a":0.566},{"p":0.661,"a":0.537},{"p":0.582,"a":0.585},{"p":0.562,"a":0.594},{"p":0.542,"a":0.642},{"p":0.536,"a":0.681},{"p":0.523,"a":0.748},{"p":0.509,"a":0.758},{"p":0.602,"a":0.738},{"p":0.609,"a":0.786},{"p":0.549,"a":0.777},{"p":0.582,"a":0.642},{"p":0.622,"a":0.623},{"p":0.681,"a":0.7},{"p":0.701,"a":0.719},{"p":0.721,"a":0.681},{"p":0.747,"a":0.757},{"p":0.728,"a":0.911},{"p":0.695,"a":0.834},{"p":0.721,"a":0.786},{"p":0.787,"a":0.853},{"p":0.807,"a":0.815},{"p":0.827,"a":0.777}
],
"one": [{"p":1.0,"a":0.8}]
},
"concat": [
{"width": 358, "height": 309,
 "layer": [
  {"data": {"name": "gray"}, "mark": {"type": "point", "filled": true, "size": 68, "opacity": 1, "color": "#bebebe"},
   "encoding": {
    "x": {"field": "p", "type": "quantitative", "scale": {"domain": [0.3, 1.7], "nice": false, "zero": false},
      "axis": {"orient": "bottom", "values": [0.5, 1.0, 1.5], "tickSize": -8, "tickWidth": 2.5, "labels": false, "title": null}},
    "y": {"field": "a", "type": "quantitative", "scale": {"domain": [-0.2, 1.6], "nice": false, "zero": false},
      "axis": {"orient": "left", "values": [0, 0.8, 1.6], "tickSize": -8, "tickWidth": 2.5, "format": ".1f", "labelPadding": 17, "labelFlush": true, "labelFlushOffset": -3, "title": "Amp", "titlePadding": 14}}}},
  {"data": {"name": "blue"}, "mark": {"type": "point", "filled": true, "size": 68, "opacity": 1, "color": "#000080"},
   "encoding": {
    "x": {"field": "p", "type": "quantitative", "scale": {"domain": [0.3, 1.7], "nice": false, "zero": false},
      "axis": {"orient": "top", "values": [0.5, 1.0, 1.5], "tickSize": -8, "tickWidth": 2.5, "labels": false, "title": null}},
    "y": {"field": "a", "type": "quantitative", "scale": {"domain": [-0.2, 1.6], "nice": false, "zero": false},
      "axis": {"orient": "right", "values": [0, 0.8, 1.6], "tickSize": -8, "tickWidth": 2.5, "labels": false, "title": null}}}},
  {"data": {"name": "one"}, "mark": {"type": "point", "opacity": 0},
   "encoding": {
    "x": {"field": "p", "type": "quantitative", "scale": {"domain": [0.3, 1.7], "nice": false, "zero": false},
      "axis": {"orient": "bottom", "values": [0.4, 0.6, 0.7, 0.8, 0.9, 1.1, 1.2, 1.3, 1.4, 1.6], "tickSize": -4, "tickWidth": 2.5, "labels": false, "title": null}},
    "y": {"field": "a", "type": "quantitative", "scale": {"domain": [-0.2, 1.6], "nice": false, "zero": false},
      "axis": {"orient": "left", "values": [-0.16, -0.08, 0.08, 0.16, 0.24, 0.32, 0.4, 0.48, 0.56, 0.64, 0.72, 0.88, 0.96, 1.04, 1.12, 1.2, 1.28, 1.36, 1.44, 1.52], "tickSize": -4, "tickWidth": 2.5, "labels": false, "title": null}}}},
  {"data": {"name": "one"}, "mark": {"type": "point", "opacity": 0},
   "encoding": {
    "x": {"field": "p", "type": "quantitative", "scale": {"domain": [0.3, 1.7], "nice": false, "zero": false},
      "axis": {"orient": "top", "values": [0.4, 0.6, 0.7, 0.8, 0.9, 1.1, 1.2, 1.3, 1.4, 1.6], "tickSize": -4, "tickWidth": 2.5, "labels": false, "title": null}},
    "y": {"field": "a", "type": "quantitative", "scale": {"domain": [-0.2, 1.6], "nice": false, "zero": false},
      "axis": {"orient": "right", "values": [-0.16, -0.08, 0.08, 0.16, 0.24, 0.32, 0.4, 0.48, 0.56, 0.64, 0.72, 0.88, 0.96, 1.04, 1.12, 1.2, 1.28, 1.36, 1.44, 1.52], "tickSize": -4, "tickWidth": 2.5, "labels": false, "title": null}}}}
 ],
 "resolve": {"axis": {"x": "independent", "y": "independent"}}
},
{"width": 353, "height": 309,
 "layer": [
  {"data": {"name": "gray"}, "mark": {"type": "point", "filled": true, "size": 68, "opacity": 1, "color": "#bebebe"},
   "encoding": {
    "x": {"field": "p", "type": "quantitative", "scale": {"domain": [0.3, 1.7], "nice": false, "zero": false},
      "axis": {"orient": "bottom", "values": [0.5, 1.0, 1.5], "tickSize": -8, "tickWidth": 2.5, "labels": false, "title": null}},
    "y": {"field": "a", "type": "quantitative", "scale": {"domain": [-0.2, 1.6], "nice": false, "zero": false},
      "axis": {"orient": "left", "values": [0, 0.8, 1.6], "tickSize": -8, "tickWidth": 2.5, "labels": false, "title": null}}}},
  {"data": {"name": "green"}, "mark": {"type": "point", "filled": true, "size": 68, "opacity": 1, "color": "#006400"},
   "encoding": {
    "x": {"field": "p", "type": "quantitative", "scale": {"domain": [0.3, 1.7], "nice": false, "zero": false},
      "axis": {"orient": "top", "values": [0.5, 1.0, 1.5], "tickSize": -8, "tickWidth": 2.5, "labels": false, "title": null}},
    "y": {"field": "a", "type": "quantitative", "scale": {"domain": [-0.2, 1.6], "nice": false, "zero": false},
      "axis": {"orient": "right", "values": [0, 0.8, 1.6], "tickSize": -8, "tickWidth": 2.5, "labels": false, "title": null}}}},
  {"data": {"name": "one"}, "mark": {"type": "point", "opacity": 0},
   "encoding": {
    "x": {"field": "p", "type": "quantitative", "scale": {"domain": [0.3, 1.7], "nice": false, "zero": false},
      "axis": {"orient": "bottom", "values": [0.4, 0.6, 0.7, 0.8, 0.9, 1.1, 1.2, 1.3, 1.4, 1.6], "tickSize": -4, "tickWidth": 2.5, "labels": false, "title": null}},
    "y": {"field": "a", "type": "quantitative", "scale": {"domain": [-0.2, 1.6], "nice": false, "zero": false},
      "axis": {"orient": "left", "values": [-0.16, -0.08, 0.08, 0.16, 0.24, 0.32, 0.4, 0.48, 0.56, 0.64, 0.72, 0.88, 0.96, 1.04, 1.12, 1.2, 1.28, 1.36, 1.44, 1.52], "tickSize": -4, "tickWidth": 2.5, "labels": false, "title": null}}}},
  {"data": {"name": "one"}, "mark": {"type": "point", "opacity": 0},
   "encoding": {
    "x": {"field": "p", "type": "quantitative", "scale": {"domain": [0.3, 1.7], "nice": false, "zero": false},
      "axis": {"orient": "top", "values": [0.4, 0.6, 0.7, 0.8, 0.9, 1.1, 1.2, 1.3, 1.4, 1.6], "tickSize": -4, "tickWidth": 2.5, "labels": false, "title": null}},
    "y": {"field": "a", "type": "quantitative", "scale": {"domain": [-0.2, 1.6], "nice": false, "zero": false},
      "axis": {"orient": "right", "values": [-0.16, -0.08, 0.08, 0.16, 0.24, 0.32, 0.4, 0.48, 0.56, 0.64, 0.72, 0.88, 0.96, 1.04, 1.12, 1.2, 1.28, 1.36, 1.44, 1.52], "tickSize": -4, "tickWidth": 2.5, "labels": false, "title": null}}}}
 ],
 "resolve": {"axis": {"x": "independent", "y": "independent"}}
},
{"width": 358, "height": 311,
 "layer": [
  {"data": {"name": "gray"}, "mark": {"type": "point", "filled": true, "size": 68, "opacity": 1, "color": "#bebebe"},
   "encoding": {
    "x": {"field": "p", "type": "quantitative", "scale": {"domain": [0.3, 1.7], "nice": false, "zero": false},
      "axis": {"orient": "bottom", "values": [0.5, 1.0, 1.5], "tickSize": -8, "tickWidth": 2.5, "format": ".1f", "labelPadding": 23, "title": "log P [V-band]", "titlePadding": 9}},
    "y": {"field": "a", "type": "quantitative", "scale": {"domain": [-0.2, 1.6], "nice": false, "zero": false},
      "axis": {"orient": "left", "values": [0, 0.8, 1.6], "tickSize": -8, "tickWidth": 2.5, "format": ".1f", "labelPadding": 17, "labelFlush": true, "labelFlushOffset": -3, "title": "Amp", "titlePadding": 14}}}},
  {"data": {"name": "magenta"}, "mark": {"type": "point", "filled": true, "size": 68, "opacity": 1, "color": "#ff00ff"},
   "encoding": {
    "x": {"field": "p", "type": "quantitative", "scale": {"domain": [0.3, 1.7], "nice": false, "zero": false},
      "axis": {"orient": "top", "values": [0.5, 1.0, 1.5], "tickSize": -8, "tickWidth": 2.5, "labels": false, "title": null}},
    "y": {"field": "a", "type": "quantitative", "scale": {"domain": [-0.2, 1.6], "nice": false, "zero": false},
      "axis": {"orient": "right", "values": [0, 0.8, 1.6], "tickSize": -8, "tickWidth": 2.5, "labels": false, "title": null}}}},
  {"data": {"name": "one"}, "mark": {"type": "point", "opacity": 0},
   "encoding": {
    "x": {"field": "p", "type": "quantitative", "scale": {"domain": [0.3, 1.7], "nice": false, "zero": false},
      "axis": {"orient": "bottom", "values": [0.4, 0.6, 0.7, 0.8, 0.9, 1.1, 1.2, 1.3, 1.4, 1.6], "tickSize": -4, "tickWidth": 2.5, "labels": false, "title": null}},
    "y": {"field": "a", "type": "quantitative", "scale": {"domain": [-0.2, 1.6], "nice": false, "zero": false},
      "axis": {"orient": "left", "values": [-0.16, -0.08, 0.08, 0.16, 0.24, 0.32, 0.4, 0.48, 0.56, 0.64, 0.72, 0.88, 0.96, 1.04, 1.12, 1.2, 1.28, 1.36, 1.44, 1.52], "tickSize": -4, "tickWidth": 2.5, "labels": false, "title": null}}}},
  {"data": {"name": "one"}, "mark": {"type": "point", "opacity": 0},
   "encoding": {
    "x": {"field": "p", "type": "quantitative", "scale": {"domain": [0.3, 1.7], "nice": false, "zero": false},
      "axis": {"orient": "top", "values": [0.4, 0.6, 0.7, 0.8, 0.9, 1.1, 1.2, 1.3, 1.4, 1.6], "tickSize": -4, "tickWidth": 2.5, "labels": false, "title": null}},
    "y": {"field": "a", "type": "quantitative", "scale": {"domain": [-0.2, 1.6], "nice": false, "zero": false},
      "axis": {"orient": "right", "values": [-0.16, -0.08, 0.08, 0.16, 0.24, 0.32, 0.4, 0.48, 0.56, 0.64, 0.72, 0.88, 0.96, 1.04, 1.12, 1.2, 1.28, 1.36, 1.44, 1.52], "tickSize": -4, "tickWidth": 2.5, "labels": false, "title": null}}}}
 ],
 "resolve": {"axis": {"x": "independent", "y": "independent"}}
},
{"width": 353, "height": 311,
 "layer": [
  {"data": {"name": "gray"}, "mark": {"type": "point", "filled": true, "size": 68, "opacity": 1, "color": "#bebebe"},
   "encoding": {
    "x": {"field": "p", "type": "quantitative", "scale": {"domain": [0.3, 1.7], "nice": false, "zero": false},
      "axis": {"orient": "bottom", "values": [0.5, 1.0, 1.5], "tickSize": -8, "tickWidth": 2.5, "format": ".1f", "labelPadding": 23, "title": "log P [V-band]", "titlePadding": 9}},
    "y": {"field": "a", "type": "quantitative", "scale": {"domain": [-0.2, 1.6], "nice": false, "zero": false},
      "axis": {"orient": "left", "values": [0, 0.8, 1.6], "tickSize": -8, "tickWidth": 2.5, "labels": false, "title": null}}}},
  {"data": {"name": "cyan"}, "mark": {"type": "point", "filled": true, "size": 68, "opacity": 1, "color": "#00ffff"},
   "encoding": {
    "x": {"field": "p", "type": "quantitative", "scale": {"domain": [0.3, 1.7], "nice": false, "zero": false},
      "axis": {"orient": "top", "values": [0.5, 1.0, 1.5], "tickSize": -8, "tickWidth": 2.5, "labels": false, "title": null}},
    "y": {"field": "a", "type": "quantitative", "scale": {"domain": [-0.2, 1.6], "nice": false, "zero": false},
      "axis": {"orient": "right", "values": [0, 0.8, 1.6], "tickSize": -8, "tickWidth": 2.5, "labels": false, "title": null}}}},
  {"data": {"name": "one"}, "mark": {"type": "point", "opacity": 0},
   "encoding": {
    "x": {"field": "p", "type": "quantitative", "scale": {"domain": [0.3, 1.7], "nice": false, "zero": false},
      "axis": {"orient": "bottom", "values": [0.4, 0.6, 0.7, 0.8, 0.9, 1.1, 1.2, 1.3, 1.4, 1.6], "tickSize": -4, "tickWidth": 2.5, "labels": false, "title": null}},
    "y": {"field": "a", "type": "quantitative", "scale": {"domain": [-0.2, 1.6], "nice": false, "zero": false},
      "axis": {"orient": "left", "values": [-0.16, -0.08, 0.08, 0.16, 0.24, 0.32, 0.4, 0.48, 0.56, 0.64, 0.72, 0.88, 0.96, 1.04, 1.12, 1.2, 1.28, 1.36, 1.44, 1.52], "tickSize": -4, "tickWidth": 2.5, "labels": false, "title": null}}}},
  {"data": {"name": "one"}, "mark": {"type": "point", "opacity": 0},
   "encoding": {
    "x": {"field": "p", "type": "quantitative", "scale": {"domain": [0.3, 1.7], "nice": false, "zero": false},
      "axis": {"orient": "top", "values": [0.4, 0.6, 0.7, 0.8, 0.9, 1.1, 1.2, 1.3, 1.4, 1.6], "tickSize": -4, "tickWidth": 2.5, "labels": false, "title": null}},
    "y": {"field": "a", "type": "quantitative", "scale": {"domain": [-0.2, 1.6], "nice": false, "zero": false},
      "axis": {"orient": "right", "values": [-0.16, -0.08, 0.08, 0.16, 0.24, 0.32, 0.4, 0.48, 0.56, 0.64, 0.72, 0.88, 0.96, 1.04, 1.12, 1.2, 1.28, 1.36, 1.44, 1.52], "tickSize": -4, "tickWidth": 2.5, "labels": false, "title": null}}}}
 ],
 "resolve": {"axis": {"x": "independent", "y": "independent"}}
}
]
}
